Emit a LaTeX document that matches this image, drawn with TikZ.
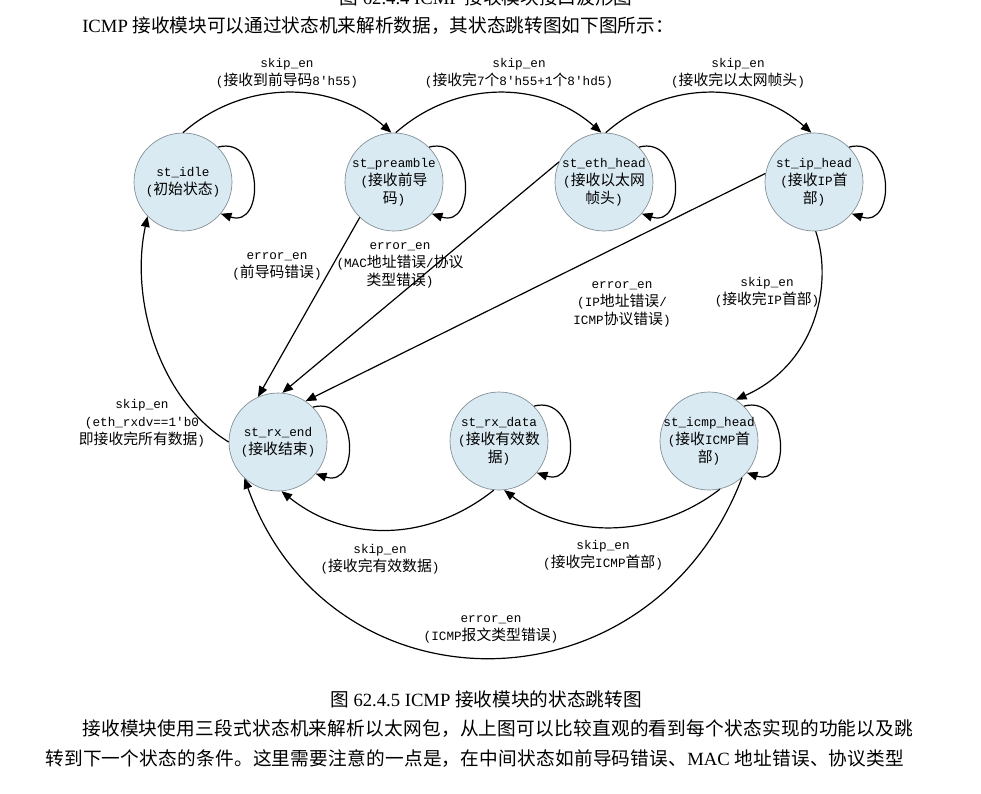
\documentclass[tikz,border=0pt]{standalone}
\usepackage{fontspec}
\setmainfont{Liberation Serif}
\newfontfamily\cjk{Noto Sans CJK SC}
\newfontfamily\cjkwide[LetterSpace=1.2]{Noto Sans CJK SC}
\newfontfamily\cjkdiag[Scale=1.17]{Noto Sans CJK SC}
\newfontfamily\monodiag{Liberation Mono}
\usetikzlibrary{arrows.meta}
\definecolor{stateFill}{HTML}{DAEAF2}
\definecolor{stateLine}{HTML}{7F8C92}
\newcommand{\cn}[1]{{\cjk #1}}
\newcommand{\cw}[1]{{\cjkwide #1}}
\newcommand{\cd}[1]{{\cjkdiag #1}}

\begin{document}
\begin{tikzpicture}[
x=0.75pt, y=-0.75pt,
every node/.style={font=\monodiag\fontsize{9.5}{13.5}\selectfont},
stateC/.style={circle, draw=stateLine, line width=0.5pt, fill=stateFill, minimum size=73.5pt, inner sep=-6pt, align=center},
lbl/.style={align=center, inner sep=0pt},
body/.style={font=\rmfamily\fontsize{14}{18}\selectfont, inner sep=0pt},
arr/.style={-{Triangle[length=8pt,width=6.5pt]}, line width=0.9pt}
]
\useasboundingbox (0,0) rectangle (981,793);

% text of the page around the figure
\node[body] (capPrev) at (486,-3) {\cn{图} 62.4.4 ICMP \cn{接收模块接口波形图}};
\node[body, anchor=west] (intro) at (82,26) {ICMP \cn{接收模块可以通过状态机来解析数据，其状态跳转图如下图所示：}};
\node[body] (cap) at (486,699) {\cn{图} 62.4.5 ICMP \cn{接收模块的状态跳转图}};
\node[body, anchor=west] (para1) at (82,729) {\cw{接收模块使用三段式状态机来解析以太网包，从上图可以比较直观的看到每个状态实现的功能以及跳}};
\node[body, anchor=west] (para2) at (45,759) {\cw{转到下一个状态的条件。这里需要注意的一点是，在中间状态如前导码错误、}MAC \cw{地址错误、协议类型}};

% states
\node[stateC] (idle) at (183,182) {st\_idle\\(\cd{初始状态})};
\node[stateC] (preamble) at (394,182) {st\_preamble\\(\cd{接收前导}\\\cd{码})};
\node[stateC] (ethhead) at (604,182) {st\_eth\_head\\(\cd{接收以太网}\\\cd{帧头})};
\node[stateC] (iphead) at (814,182) {st\_ip\_head\\(\cd{接收}IP\cd{首}\\\cd{部})};
\node[stateC] (rxend) at (278,442) {st\_rx\_end\\(\cd{接收结束})};
\node[stateC] (rxdata) at (499,441) {st\_rx\_data\\(\cd{接收有效数}\\\cd{据})};
\node[stateC] (icmphead) at (709,441) {st\_icmp\_head\\(\cd{接收}ICMP\cd{首}\\\cd{部})};

% self loops
\foreach \s in {idle,preamble,ethhead,iphead,rxend,rxdata,icmphead}
  \draw[arr] (\s.45) .. controls +(45,-12) and +(45,15) .. (\s.-40);

% top row: skip_en
\draw[arr] (idle.90) .. controls +(60,-53) and +(-60,-53) .. (preamble.93);
\draw[arr] (preamble.88) .. controls +(60,-53) and +(-60,-53) .. (ethhead.93);
\draw[arr] (ethhead.88) .. controls +(60,-53) and +(-60,-53) .. (iphead.93);
\node[lbl] (lIdlePre) at (287,73) {skip\_en\\(\cd{接收到前导码}8'h55)};
\node[lbl] (lPreEth) at (519,73) {skip\_en\\(\cd{接收完}7\cd{个}8'h55+1\cd{个}8'hd5)};
\node[lbl] (lEthIp) at (738,73) {skip\_en\\(\cd{接收完以太网帧头})};

% error_en to st_rx_end
\draw[arr] (preamble.-134) -- (rxend.114);
\draw[arr] (ethhead.156) -- (rxend.85);
\draw[arr] (iphead.170) -- (rxend.56);
\node[lbl] (lPreErr) at (277,266) {error\_en\\(\cd{前导码错误})};
\node[lbl] (lEthErr) at (400,265) {error\_en\\(MAC\cd{地址错误}/\cd{协议}\\\cd{类型错误})};
\node[lbl] (lIpErr) at (622,304) {error\_en\\(IP\cd{地址错误}/\\ICMP\cd{协议错误})};

% st_ip_head -> st_icmp_head
\draw[arr] (iphead.-88) .. controls +(18,54) and +(79,-35) .. (icmphead.57);
\node[lbl] (lIpIcmp) at (767,292) {skip\_en\\(\cd{接收完}IP\cd{首部})};

% back to st_idle
\draw[arr] (rxend.180) .. controls +(-69,-42) and +(-18,84) .. (idle.-136);
\node[lbl] (lEndIdle) at (142,423) {skip\_en\\(eth\_rxdv==1'b0\\\cd{即接收完所有数据})};

% bottom row
\draw[arr] (rxdata.-96) .. controls +(-65,52) and +(65,52) .. (rxend.-86);
\draw[arr] (icmphead.-77) .. controls +(-65,50) and +(65,50) .. (rxdata.-84);
\draw[arr] (icmphead.-48) .. controls +(-92,240) and +(85,239) .. (rxend.-133);
\node[lbl] (lDataEnd) at (380,559) {skip\_en\\(\cd{接收完有效数据})};
\node[lbl] (lIcmpData) at (603,555) {skip\_en\\(\cd{接收完}ICMP\cd{首部})};
\node[lbl] (lIcmpErr) at (491,629) {error\_en\\(ICMP\cd{报文类型错误})};
\end{tikzpicture}
\end{document}
